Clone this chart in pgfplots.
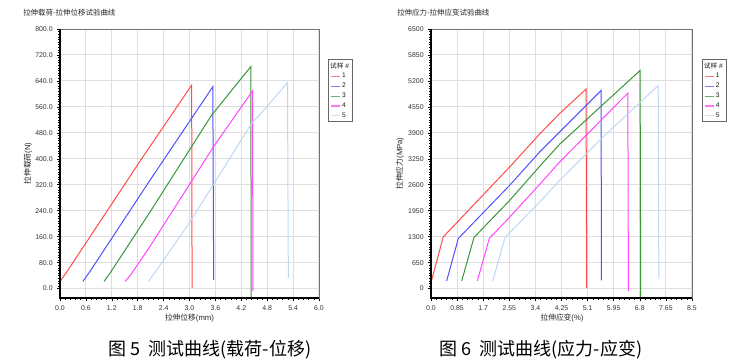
\documentclass[border=0pt]{standalone}
\usepackage{fontspec}
\setmainfont{Liberation Sans}
\newfontfamily\cjk{Noto Sans CJK SC}
\usepackage{pgfplots}
\pgfplotsset{compat=1.18}
\definecolor{s1}{RGB}{255,75,75}
\definecolor{s2}{RGB}{80,80,255}
\definecolor{s3}{RGB}{55,150,55}
\definecolor{s4}{RGB}{255,70,255}
\definecolor{s5}{RGB}{190,215,242}
\pgfplotsset{
  mystyle/.style={
    scale only axis, anchor=south west,
    tick align=outside, tick pos=left,
    grid=major, major grid style={draw=black!13, line width=0.75pt},
    axis line style={draw=black!55, line width=0.6pt},
    major tick length=2pt, minor tick length=1.2pt,
    every tick/.style={black, line width=0.4pt},
    tick label style={font=\fontsize{5.2}{6}\selectfont, text=black!80},
    /pgf/number format/assume math mode=true,
    minor x tick num=4, minor y tick num=9,
    every axis plot/.append style={line width=0.75pt, mark=none},
    legend style={at={(1.035,0.888)}, anchor=north west, draw=black!60, line width=0.7pt,
      fill=white, font=\fontsize{5}{5.5}\selectfont, inner xsep=1.5pt, inner ysep=1.2pt,
      nodes={inner sep=0.9pt, text=black!90},
      row sep=0.6pt, /tikz/every even column/.append style={column sep=2pt}},
    legend cell align=left,
    legend image code/.code={\draw[##1, opacity=0.75, line width=0.8pt] (0pt,0pt) -- (7pt,0pt);},
    label style={font=\fontsize{5.8}{6.5}\selectfont, text=black!85},
  }
}
\begin{document}
\begin{tikzpicture}
\path[use as bounding box] (0,0) rectangle (549pt,-271.5pt);
% ---------- left chart ----------
\begin{axis}[mystyle, name=A, at={(45pt,-223.5pt)},
  width=194.25pt, height=201.75pt,
  xmin=0, xmax=6, ymin=-29, ymax=800,
  xtick={0,0.6,1.2,1.8,2.4,3.0,3.6,4.2,4.8,5.4,6.0},
  ytick={0,80,160,240,320,400,480,560,640,720,800},
  /pgf/number format/.cd, fixed, fixed zerofill, precision=1, /pgfplots/.cd,
  xlabel={{\cjk 拉伸位移}(mm)}, xlabel style={at={(axis description cs:0.5,-0.074)}, anchor=center},
  ylabel={{\cjk 拉伸载荷}(N)}, ylabel style={at={(axis description cs:-0.124,0.5)}, anchor=center},
]
\addlegendimage{empty legend}
\addlegendentry{\hspace{-9pt}{\cjk 试样} \#}
\addplot[s1] coordinates {(0,22) (0.15,50) (1.85,392) (3.05,627) (3.06,2)};
\addlegendentry{1}
\addplot[s2] coordinates {(0.53,22) (0.68,50) (2.085,334) (3.54,622) (3.56,27)};
\addlegendentry{2}
\addplot[s3] coordinates {(1.02,22) (1.17,50) (2.085,236) (3.51,534) (4.42,684) (4.43,-40)};
\addlegendentry{3}
\addplot[s4] coordinates {(1.51,22) (1.65,45) (2.085,130) (3.55,436) (4.46,609) (4.47,-8)};
\addlegendentry{4}
\addplot[s5] coordinates {(2.05,22) (2.39,86) (3.01,205) (4.44,509) (4.79,560) (5.27,635) (5.29,32)};
\addlegendentry{5}
\end{axis}
\draw[black, line width=1.1pt] (A.north west) -- (A.south west) -- (A.south east);
% ---------- right chart ----------
\begin{axis}[mystyle, name=B, at={(323.25pt,-223.5pt)},
  width=195.75pt, height=201.75pt,
  xmin=0, xmax=8.5, ymin=-236, ymax=6500,
  xtick={0,0.85,1.7,2.55,3.4,4.25,5.1,5.95,6.8,7.65,8.5},
  xticklabels={0.0,0.85,1.7,2.55,3.4,4.25,5.1,5.95,6.8,7.65,8.5},
  ytick={0,650,1300,1950,2600,3250,3900,4550,5200,5850,6500},
  /pgf/number format/.cd, 1000 sep={}, /pgfplots/.cd,
  xlabel={{\cjk 拉伸应变}(\%)}, xlabel style={at={(axis description cs:0.502,-0.074)}, anchor=center},
  ylabel={{\cjk 拉伸应力}(MPa)}, ylabel style={at={(axis description cs:-0.119,0.5)}, anchor=center},
  legend style={at={(1.038,0.888)}},
]
\addlegendimage{empty legend}
\addlegendentry{\hspace{-9pt}{\cjk 试样} \#}
\addplot[s1] coordinates {(0.02,210) (0.40,1295) (2.57,3052) (3.55,3880) (4.20,4392) (5.05,4995) (5.07,15)};
\addlegendentry{1}
\addplot[s2] coordinates {(0.51,191) (0.89,1255) (2.57,2593) (3.55,3429) (4.20,3931) (5.54,4960) (5.55,208)};
\addlegendentry{2}
\addplot[s3] coordinates {(1.00,191) (1.40,1280) (2.57,2216) (3.55,3070) (4.20,3622) (6.81,5462) (6.83,-300)};
\addlegendentry{3}
\addplot[s4] coordinates {(1.51,191) (1.90,1255) (2.57,1797) (3.55,2618) (4.20,3178) (6.41,4894) (6.43,-60)};
\addlegendentry{4}
\addplot[s5] coordinates {(2.01,191) (2.41,1280) (3.55,2174) (4.20,2718) (5.72,3880) (7.40,5085) (7.42,251)};
\addlegendentry{5}
\end{axis}
\draw[black, line width=1.1pt] (B.north west) -- (B.south west) -- (B.south east);
% ---------- titles ----------
\node[font=\cjk\fontsize{5.6}{6.5}\selectfont, anchor=west, text=black!85, inner sep=0pt] at (17.25pt,-9.75pt) {拉伸载荷-拉伸位移试验曲线};
\node[font=\cjk\fontsize{5.6}{6.5}\selectfont, anchor=west, text=black!85, inner sep=0pt] at (297.75pt,-9.75pt) {拉伸应力-拉伸应变试验曲线};
% ---------- captions ----------
\node[font=\cjk\fontsize{13.5}{15}\selectfont] at (157.5pt,-262.5pt) {图 5\hspace{0.45em}测试曲线(载荷-位移)};
\node[font=\cjk\fontsize{13.5}{15}\selectfont] at (405.75pt,-262.5pt) {图 6\hspace{0.45em}测试曲线(应力-应变)};
\end{tikzpicture}
\end{document}
